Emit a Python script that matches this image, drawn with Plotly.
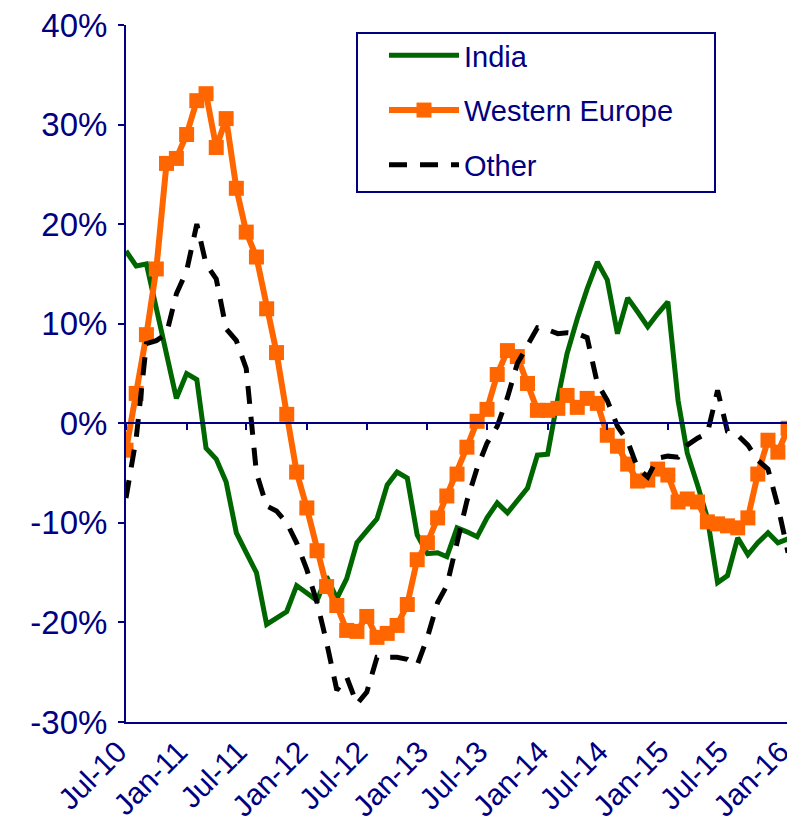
import pandas as pd
import plotly.graph_objects as go

months = pd.date_range("2010-07-01", periods=67, freq="MS")

india = [17.3, 15.8, 16.0, 11.5, 6.7, 2.5, 5.0, 4.4, -2.5, -3.6,
         -5.9, -11.0, -13.0, -15.0, -20.2, -19.6, -18.9, -16.3, -17.0, -17.8,
         -15.4, -17.6, -15.6, -12.0, -10.8, -9.6, -6.2, -4.9, -5.5, -11.2,
         -13.1, -13.0, -13.4, -10.5, -10.9, -11.4, -9.5, -8.0, -9.0, -7.8,
         -6.5, -3.2, -3.1, 2.5, 7.0, 10.5, 13.5, 16.2, 14.4, 9.0,
         12.6, 11.2, 9.7, 11.0, 12.2, 2.3, -3.0, -6.2, -9.5, -16.0,
         -15.3, -11.5, -13.2, -12.0, -11.0, -12.0, -11.6]

western_europe = [-2.7, 3.0, 8.9, 15.5, 26.1, 26.6, 29.0, 32.4, 33.1, 27.7,
                  30.6, 23.6, 19.2, 16.7, 11.5, 7.1, 0.9, -4.9, -8.5, -12.8,
                  -16.4, -18.3, -20.8, -20.9, -19.4, -21.5, -21.1, -20.3, -18.2, -13.7,
                  -12.0, -9.5, -7.3, -5.1, -2.4, 0.2, 1.4, 4.9, 7.3, 6.7,
                  4.0, 1.3, 1.3, 1.5, 2.8, 1.6, 2.5, 2.0, -1.2, -2.3,
                  -4.1, -5.8, -5.7, -4.6, -5.2, -7.9, -7.6, -7.9, -9.9, -10.1,
                  -10.3, -10.5, -9.5, -5.1, -1.7, -2.9, -0.5]

other = [-7.5, -1.5, 8.0, 8.3, 9.0, 13.0, 15.3, 20.0, 16.0, 14.5,
         9.5, 8.3, 5.5, -5.0, -8.3, -8.8, -10.0, -12.0, -14.7, -18.0,
         -22.0, -26.8, -25.5, -28.2, -27.0, -23.5, -23.5, -23.5, -23.7, -24.3,
         -21.5, -18.0, -16.3, -12.0, -7.8, -4.5, -2.0, -0.3, 2.6, 6.0,
         7.8, 9.6, 9.4, 9.0, 9.1, 9.0, 8.6, 4.0, 2.3, -0.3,
         -1.8, -4.5, -5.4, -3.5, -3.3, -3.4, -2.2, -1.5, -1.0, 3.3,
         -0.8, -1.2, -2.2, -3.7, -4.6, -8.3, -13.0]

tick_dates = pd.date_range("2010-07-01", "2016-01-01", freq="6MS")
tick_labels = ["Jul-10", "Jan-11", "Jul-11", "Jan-12", "Jul-12", "Jan-13",
               "Jul-13", "Jan-14", "Jul-14", "Jan-15", "Jul-15", "Jan-16"]
y_ticks = [-30, -20, -10, 0, 10, 20, 30, 40]
y_labels = [f"{v}%" for v in y_ticks]

NAVY = "#000080"
FONT = "Liberation Sans, Arial, sans-serif"

# page body has an 8px margin, so the figure is drawn at (8, 8)
OFF = 8
PLOT_L, PLOT_R, PLOT_T, PLOT_B = 126, 795, 25, 722
PW, PH = PLOT_R - PLOT_L, PLOT_B - PLOT_T


def px(x):
    return (x - PLOT_L) / PW


def py(y):
    return (PLOT_B - y) / PH


fig = go.Figure()
fig.add_trace(go.Scatter(x=months, y=india, name="India", mode="lines",
                         line=dict(color="#006600", width=5), legendgroup="a"))
fig.add_trace(go.Scatter(x=months, y=western_europe, name="Western Europe",
                         mode="lines+markers",
                         line=dict(color="#FF6600", width=6),
                         marker=dict(symbol="square", size=15, color="#FF6600"),
                         legendgroup="b"))
fig.add_trace(go.Scatter(x=months, y=other, name="Other", mode="lines",
                         line=dict(color="black", width=5, dash="18px,13px"),
                         legendgroup="c"))
fig.add_trace(go.Scatter(x=[months[0]], y=[0], xaxis="x2", mode="markers",
                         marker=dict(opacity=0), showlegend=False, hoverinfo="skip"))

x_range = [months[0], pd.Timestamp("2016-01-22")]

fig.update_layout(
    width=795 - OFF, height=828 - OFF,
    margin=dict(l=PLOT_L - OFF, r=0, t=PLOT_T - OFF, b=828 - PLOT_B,
                autoexpand=False),
    paper_bgcolor="white", plot_bgcolor="white",
    font=dict(family=FONT, color=NAVY),
    xaxis=dict(range=x_range, tickvals=tick_dates, ticktext=tick_labels,
               tickangle=-45, tickfont=dict(size=30, color=NAVY),
               showgrid=False, zeroline=False, showline=True,
               linecolor=NAVY, linewidth=2, ticks="", ticklen=0,
               automargin=False, ticklabeloverflow="allow",
               ticklabelstandoff=-2, ticklabelshift=-8),
    xaxis2=dict(range=x_range, overlaying="x", anchor="free",
                position=30 / 70, side="bottom", showline=True,
                linecolor=NAVY, linewidth=2, ticks="outside", ticklen=6,
                tickwidth=2, tickcolor=NAVY, tickvals=tick_dates,
                showticklabels=False, showgrid=False, zeroline=False,
                automargin=False),
    yaxis=dict(range=[-30, 40], tickvals=y_ticks, ticktext=y_labels,
               tickfont=dict(size=33, color=NAVY), showgrid=False,
               zeroline=False, showline=True, linecolor=NAVY, linewidth=2,
               ticks="outside", ticklen=6, tickwidth=2, tickcolor=NAVY,
               automargin=False, ticklabelstandoff=4,
               ticklabeloverflow="allow"),
    legend=dict(x=px(384), y=py(30), xanchor="left",
                yanchor="top", bgcolor="rgba(0,0,0,0)", borderwidth=0,
                font=dict(size=29, color=NAVY), itemwidth=70,
                traceorder="grouped", tracegroupgap=14),
    shapes=[dict(type="rect", xref="paper", yref="paper",
                 x0=px(357), x1=px(715), y0=py(192), y1=py(33),
                 line=dict(color=NAVY, width=2), fillcolor="rgba(0,0,0,0)",
                 layer="below")],
    showlegend=True,
)

fig.write_html("out.html")
